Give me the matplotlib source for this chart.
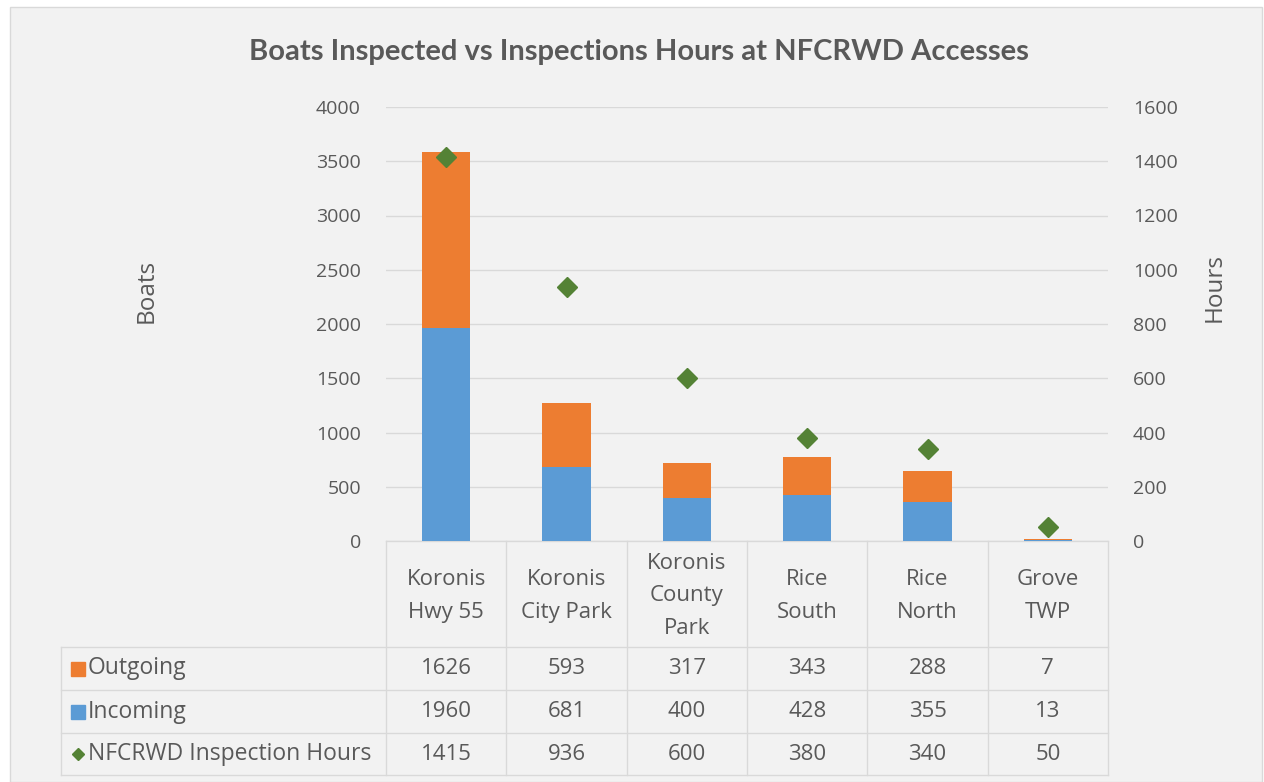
import matplotlib
matplotlib.use("Agg")
import matplotlib.pyplot as plt
from matplotlib.lines import Line2D
from matplotlib.patches import Rectangle

categories = ["Koronis\nHwy 55", "Koronis\nCity Park", "Koronis\nCounty\nPark",
              "Rice\nSouth", "Rice\nNorth", "Grove\nTWP"]
outgoing = [1626, 593, 317, 343, 288, 7]
incoming = [1960, 681, 400, 428, 355, 13]
hours = [1415, 936, 600, 380, 340, 50]
left_ticks = [0, 500, 1000, 1500, 2000, 2500, 3000, 3500, 4000]
right_ticks = [0, 200, 400, 600, 800, 1000, 1200, 1400, 1600]

ORANGE = "#ED7D31"
BLUE = "#5B9BD5"
GREEN = "#548235"
GRID = "#D9D9D9"
TXT = "#595959"
BG = "#F2F2F2"
FONT = ["Open Sans", "DejaVu Sans"]
plt.rcParams["font.family"] = FONT

W, H = 1264, 782
fig = plt.figure(figsize=(W / 100, H / 100), dpi=100)
fig.patch.set_facecolor("white")

# background panel
bg = fig.add_axes([0, 0, 1, 1])
bg.set_xlim(0, W)
bg.set_ylim(H, 0)
bg.axis("off")
bg.add_patch(Rectangle((10, 7), W - 12, H - 7, facecolor=BG, edgecolor="#D9D9D9", lw=1))

x0, x1, ytop, ybot = 386, 1108, 107, 541
ax = fig.add_axes([x0 / W, (H - ybot) / H, (x1 - x0) / W, (ybot - ytop) / H])
ax.set_facecolor("none")
xs = list(range(len(categories)))
ax.bar(xs, incoming, width=0.4, color=BLUE, zorder=3)
ax.bar(xs, outgoing, width=0.4, bottom=incoming, color=ORANGE, zorder=3)
ax.set_xlim(-0.5, len(categories) - 0.5)
ax.set_ylim(0, 4000)
ax.set_yticks(left_ticks)
ax.yaxis.grid(True, color=GRID, lw=1, zorder=0)
ax.set_xticks([])
for s in ax.spines.values():
    s.set_visible(False)
ax.tick_params(axis="y", length=0, pad=18, labelsize=14, labelcolor=TXT)

ax2 = ax.twinx()
ax2.plot(xs, hours, linestyle="none", marker="D", markersize=10, color=GREEN, zorder=5)
ax2.set_ylim(0, 1600)
ax2.set_yticks(right_ticks)
for s in ax2.spines.values():
    s.set_visible(False)
ax2.tick_params(axis="y", length=0, pad=18, labelsize=14, labelcolor=TXT)

fig.text(639 / W, 1 - 52 / H, "Boats Inspected vs Inspections Hours at NFCRWD Accesses",
         ha="center", va="center", fontsize=21, fontweight="bold", color=TXT,
         family=["Lato", "DejaVu Sans"])
fig.text(147 / W, 1 - 291 / H, "Boats", rotation=90, ha="center", va="center",
         fontsize=17.5, color=TXT)
fig.text(1215 / W, 1 - 288 / H, "Hours", rotation=90, ha="center", va="center",
         fontsize=17.5, color=TXT)

# data table
col_w = (x1 - x0) / len(categories)
centers = [x0 + col_w * (i + 0.5) for i in xs]
edges = [x0 + col_w * i for i in range(len(categories) + 1)]
tleft = 61
row_lines = [647, 690, 733, 775]
lw = 1
bg.add_line(Line2D([x0, x1], [ybot, ybot], color=GRID, lw=lw))
for y in row_lines:
    bg.add_line(Line2D([tleft, x1], [y, y], color=GRID, lw=lw))
bg.add_line(Line2D([tleft, tleft], [row_lines[0], row_lines[-1]], color=GRID, lw=lw))
for e in edges:
    bg.add_line(Line2D([e, e], [ybot, row_lines[-1]], color=GRID, lw=lw))

for c, lab in zip(centers, categories):
    bg.text(c, 596, lab, ha="center", va="center", fontsize=16, color=TXT,
            linespacing=1.7)

rows = [("Outgoing", outgoing, ORANGE, "s"),
        ("Incoming", incoming, BLUE, "s"),
        ("NFCRWD Inspection Hours", hours, GREEN, "D")]
ycs = [(row_lines[i] + row_lines[i + 1]) / 2 for i in range(3)]
for (name, vals, col, mk), yc in zip(rows, ycs):
    bg.plot([78], [yc], marker=mk, color=col, markersize=9.5 if mk == "s" else 6.5,
            linestyle="none")
    bg.text(88, yc, name, ha="left", va="center", fontsize=16.5, color=TXT)
    for c, v in zip(centers, vals):
        bg.text(c, yc, str(v), ha="center", va="center", fontsize=16, color=TXT)

fig.savefig("out.png", dpi=100, facecolor=fig.get_facecolor())
